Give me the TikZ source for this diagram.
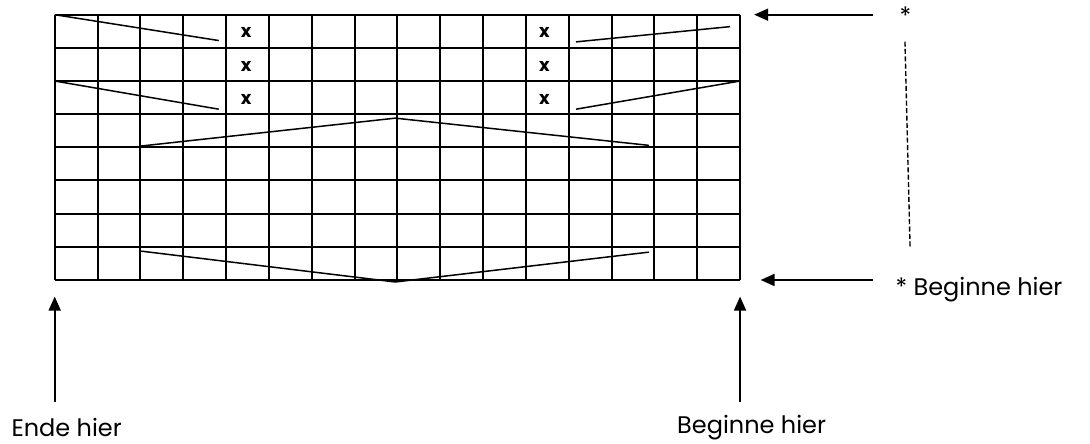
\documentclass[tikz,border=0pt]{standalone}
\usepackage{fontspec}
\setmainfont{Poppins}
\usetikzlibrary{arrows.meta,positioning}

\begin{document}
\begin{tikzpicture}[
  x=21.415pt, y=-16.58pt,
  cell/.style = {line width=1pt},
  zig/.style = {line width=0.75pt},
  arr/.style = {-{Triangle[length=7pt, width=6pt]}, line width=0.9pt},
  lbl/.style = {font=\fontsize{12}{14}\selectfont, inner sep=0pt},
  xmark/.style = {font=\bfseries\fontsize{9}{10}\selectfont, inner sep=0pt},
]
\useasboundingbox (-1.277,-0.443) rectangle (24.17,12.916);
% grid 16 x 8
\foreach \i in {0,...,16} \draw[cell] (\i,0) -- (\i,8);
\foreach \j in {0,...,8} \draw[cell] (0,\j) -- (16,\j);
% marked stitches
\foreach \j in {0,1,2} {
  \node[xmark] (xl\j) at (4.47,\j+0.55) {x};
  \node[xmark] (xr\j) at (11.43,\j+0.55) {x};
}
% slanted guide lines
\coordinate (a1) at (0,0);       \coordinate (a2) at (3.83,0.78);
\coordinate (b1) at (0,2.0);     \coordinate (b2) at (3.83,2.85);
\coordinate (c1) at (12.17,0.82); \coordinate (c2) at (15.77,0.36);
\coordinate (d1) at (12.17,2.85); \coordinate (d2) at (16,2.0);
\draw[zig] (a1) -- (a2);
\draw[zig] (b1) -- (b2);
\draw[zig] (c1) -- (c2);
\draw[zig] (d1) -- (d2);
\coordinate (vt1) at (2.02,3.96); \coordinate (vt2) at (7.95,3.12); \coordinate (vt3) at (13.87,3.94);
\coordinate (vb1) at (2.02,7.13); \coordinate (vb2) at (7.95,8.06); \coordinate (vb3) at (13.87,7.16);
\draw[zig] (vt1) -- (vt2) -- (vt3);
\draw[zig] (vb1) -- (vb2) -- (vb3);
% right side
\node[lbl] (startop) at (19.86,0.02) {*};
\coordinate (toptail) at (19.10,0);    \coordinate (toptip) at (16.33,0);
\coordinate (bottail) at (19.10,8);    \coordinate (bottip) at (16.48,8);
\draw[arr] (toptail) -- (toptip);
\draw[arr] (bottail) -- (bottip);
\coordinate (dash1) at (19.85,0.81);   \coordinate (dash2) at (19.97,7.04);
\draw[dashed, dash pattern=on 2.5pt off 1.2pt, line width=0.7pt] (dash1) -- (dash2);
\node[lbl, anchor=west] (startlbl) at (19.62,8.3) {* Beginne hier};
% bottom
\coordinate (endtail) at (0,11.67);    \coordinate (endtip) at (0,8.5);
\coordinate (begtail) at (16,11.67);   \coordinate (begtip) at (16,8.5);
\draw[arr] (endtail) -- (endtip);
\draw[arr] (begtail) -- (begtip);
\node[lbl] (endlbl) at (0.28,12.46) {Ende hier};
\node[lbl] (beglbl) at (16.27,12.46) {Beginne hier};
\end{tikzpicture}
\end{document}
